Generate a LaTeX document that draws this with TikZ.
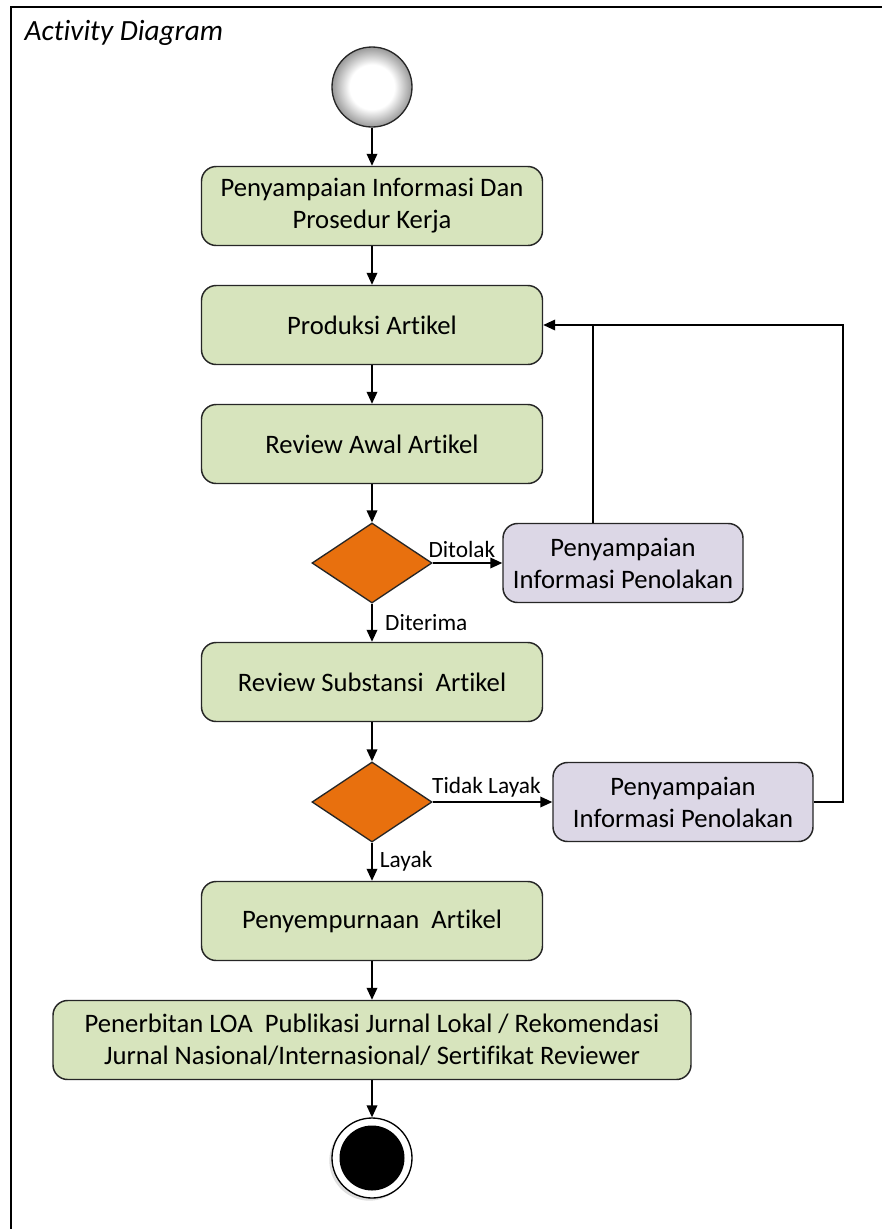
\documentclass[tikz,border=0pt]{standalone}
\usepackage{fontspec}
\setmainfont{Carlito}[RawFeature=-liga]
\usetikzlibrary{shadows}
\usetikzlibrary{positioning}
\usetikzlibrary{arrows.meta,shapes.geometric}
\usetikzlibrary{calc}

\definecolor{actgreen}{HTML}{D7E4BD}
\definecolor{actpurple}{HTML}{DCD7E6}
\definecolor{decorange}{HTML}{E8700E}

\pgfdeclareradialshading{startball}{\pgfpoint{0bp}{0bp}}{%
  color(0bp)=(white); color(14bp)=(white); color(25bp)=(black!40); color(50bp)=(black!40)}

\tikzset{
  activity/.style={draw=black!85, line width=1.1pt, rounded corners=11pt, fill=actgreen,
    minimum width=255.75pt, minimum height=59.25pt, align=center, font=\fontsize{20}{24}\selectfont},
  reject/.style={activity, fill=actpurple},
  decision/.style={diamond, draw=black!85, line width=1pt, fill=decorange, aspect=1.5,
    minimum width=90pt, minimum height=60pt, inner sep=0pt},
  flow/.style={-{Triangle[length=9pt,width=8pt]}, line width=1.1pt},
  guard/.style={font=\fontsize{17.5}{21}\selectfont}
}

\begin{document}
\begin{tikzpicture}[x=0.75pt, y=-0.75pt]

  \useasboundingbox (0,0) rectangle (882,1229);
  \fill[white] (0,0) rectangle (882,1229);

  % frame
  \draw[line width=1.5pt] (11,1229) -- (11,7) -- (882,7);
  \node[anchor=west, font=\itshape\fontsize{22}{26}\selectfont] (title) at (20,33) {Activity Diagram};

  % start and end
  \node[circle, draw=black!85, line width=1pt, minimum size=60pt, inner sep=0pt,
        shading=startball] (start) at (372,87) {};

  \node[activity] (info) at (372,206) {Penyampaian Informasi Dan\\Prosedur Kerja};
  \node[activity] (produksi) at (372,325) {Produksi Artikel};
  \node[activity] (awal) at (372,444) {Review Awal Artikel};
  \node[decision] (cek1) at (372,563) {};
  \node[reject, minimum width=180pt] (tolak1) at (623,563) {Penyampaian\\Informasi Penolakan};
  \node[activity] (substansi) at (372,682) {Review Substansi~ Artikel};
  \node[decision] (cek2) at (372,802) {};
  \node[reject, minimum width=195pt] (tolak2) at (683,802) {Penyampaian\\Informasi Penolakan};
  \node[activity] (sempurna) at (372,921) {Penyempurnaan~ Artikel};
  \node[activity, minimum width=478.5pt] (terbit) at (372,1040)
    {Penerbitan LOA~ Publikasi Jurnal Lokal / Rekomendasi\\Jurnal Nasional/Internasional/ Sertifikat Reviewer};

  \node[circle, draw=black, line width=1pt, fill=white, minimum size=60pt, inner sep=0pt,
        drop shadow={shadow xshift=-2pt, shadow yshift=-2pt, opacity=0.25}] (stop) at (372,1158) {};
  \node[circle, fill=black, minimum size=48.75pt, inner sep=0pt] (stopdot) at (stop) {};

  % flows
  \draw[flow] (start) -- (info);
  \draw[flow] (info) -- (produksi);
  \draw[flow] (produksi) -- (awal);
  \draw[flow] (awal) -- (cek1);
  \draw[flow] (cek1) -- node[guard, above, pos=0.42] {Ditolak} (tolak1);
  \draw[flow] (cek1) -- node[guard, right, pos=0.5, xshift=6pt] {Diterima} (substansi);
  \draw[flow] (substansi) -- (cek2);
  \draw[flow] (cek2) -- node[guard, above, pos=0.45] {Tidak Layak} (tolak2);
  \draw[flow] (cek2) -- node[guard, right, pos=0.5, xshift=2pt] {Layak} (sempurna);
  \draw[flow] (sempurna) -- (terbit);
  \draw[flow] (terbit) -- (stop);

  % rejection loops
  \coordinate (loop) at (843,325);
  \draw[line width=1.1pt] (tolak1.north -| 593,0) -- (593,325);
  \draw[flow] (tolak2.east) -- (tolak2.east -| loop) -- (loop) -- (produksi.east);

\end{tikzpicture}
\end{document}
